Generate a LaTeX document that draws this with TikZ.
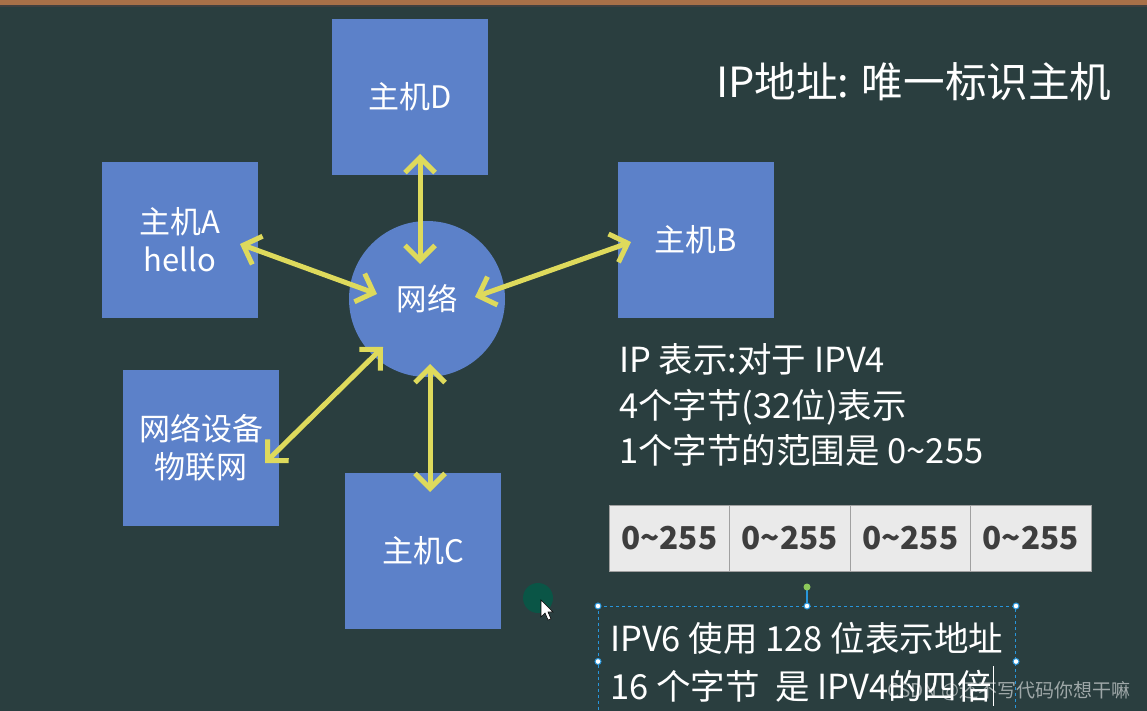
\documentclass[tikz,border=0pt]{standalone}
\usepackage{fontspec}
\setmainfont{Noto Sans CJK SC}
\usetikzlibrary{arrows.meta}
\definecolor{bg}{RGB}{42,62,63}
\definecolor{wood}{RGB}{168,112,72}
\definecolor{boxblue}{RGB}{92,129,201}
\definecolor{arrowy}{RGB}{222,218,92}
\definecolor{cellfill}{RGB}{234,234,234}
\definecolor{cellline}{RGB}{160,160,160}
\definecolor{celltext}{RGB}{62,62,62}
\definecolor{selblue}{RGB}{40,150,220}
\definecolor{handlegreen}{RGB}{140,200,90}
\definecolor{spot}{RGB}{10,85,70}
\tikzset{
  hostbox/.style={rectangle, fill=boxblue, minimum width=156pt, minimum height=156pt,
    inner sep=0pt, text=white, align=center, font=\fontsize{31}{38}\selectfont},
  netcircle/.style={circle, fill=boxblue, minimum size=156pt, inner sep=0pt, text=white,
    font=\fontsize{30.5}{36}\selectfont},
  link/.style={draw=arrowy, line width=5pt, {Straight Barb[length=15pt,width=30pt,line width=5pt]}-{Straight Barb[length=15pt,width=30pt,line width=5pt]}},
  bodytext/.style={anchor=west, text=white, inner sep=0pt, font=\fontsize{34.5}{38}\selectfont},
  cell/.style={rectangle, fill=cellfill, draw=cellline, line width=1pt, minimum width=120.5pt,
    minimum height=66pt, inner sep=0pt, text=celltext, font=\fontsize{31.5}{34}\selectfont\bfseries},
  handle/.style={circle, fill=white, draw=selblue, line width=1pt, minimum size=6pt, inner sep=0pt}
}
\begin{document}
\begin{tikzpicture}[x=1pt,y=-1pt]
\fill[bg] (0,0) rectangle (1147,711);
\useasboundingbox (0,0) rectangle (1147,711);
\fill[wood] (0,0) rectangle (1147,5);
\fill[black!75] (0,5) rectangle (1147,7.5);

% hosts
\node[hostbox] (D) at (410,97) {主机D};
\node[hostbox] (A) at (180,240) {主机A\\hello};
\node[hostbox] (B) at (696,240) {主机B};
\node[hostbox] (E) at (201,448) {网络设备\\物联网};
\node[hostbox] (C) at (423,550.5) {主机C};
\node[netcircle] (N) at (427,299) {网络};

% arrow end points
\coordinate (dA) at (420,154);
\coordinate (dN) at (420,264);
\coordinate (aA) at (240,244);
\coordinate (aN) at (377,294);
\coordinate (bB) at (631,242);
\coordinate (bN) at (475,297);
\coordinate (eE) at (265,463);
\coordinate (eN) at (383,347);
\coordinate (cC) at (430,492);
\coordinate (cN) at (430,364);
\draw[link] (dA) -- (dN);
\draw[link] (aA) -- (aN);
\draw[link] (bB) -- (bN);
\draw[link] (eE) -- (eN);
\draw[link] (cC) -- (cN);

% title
\node[anchor=west, text=white, inner sep=0pt, font=\fontsize{41.6}{46}\selectfont] (title) at (716,82) {IP地址: 唯一标识主机};

% IPv4 text
\node[bodytext] (l1) at (619,359) {IP 表示:对于 IPV4};
\node[bodytext] (l2) at (619,407) {4个字节(32位)表示};
\node[bodytext] (l3) at (619,450) {1个字节的范围是 0\char"007E 255};

% table
\node[cell] (c1) at (669.25,538) {0\char"007E 255};
\node[cell] (c2) at (789.75,538) {0\char"007E 255};
\node[cell] (c3) at (910.25,538) {0\char"007E 255};
\node[cell] (c4) at (1030.75,538) {0\char"007E 255};

% cursor highlight and pointer
\fill[spot] (538,598) circle (15);
\draw[fill=white, draw=black, line width=0.6pt] (541,600) -- (541,617) -- (545,613) -- (548,620) -- (551,619) -- (548,612) -- (553,612) -- cycle;

% selected text box
\node[draw=selblue, dashed, line width=1pt, minimum width=417pt, minimum height=110pt, inner sep=0pt, anchor=north west] (sel) at (598,606) {};
\coordinate (rot) at (807,587);
\draw[selblue, line width=1.2pt] (rot) -- (sel.north);
\fill[handlegreen] (rot) circle (3.5);
\foreach \p in {north west, north, north east, west, east} {
  \node[handle] at (sel.\p) {};
}
\node[bodytext] (v1) at (610,638) {IPV6 使用 128 位表示地址};
\node[bodytext] (v2) at (610,686) {16 个字节 \ 是 IPV4的四倍};
\draw[white, line width=0.8pt] (v2.east) ++(1,-20) -- ++(0,40);

% watermark
\node[anchor=east, inner sep=0pt, text=white, opacity=0.55, font=\fontsize{19}{22}\selectfont] (wm) at (1131,691) {CSDN @还不写代码你想干嘛};
\end{tikzpicture}
\end{document}
